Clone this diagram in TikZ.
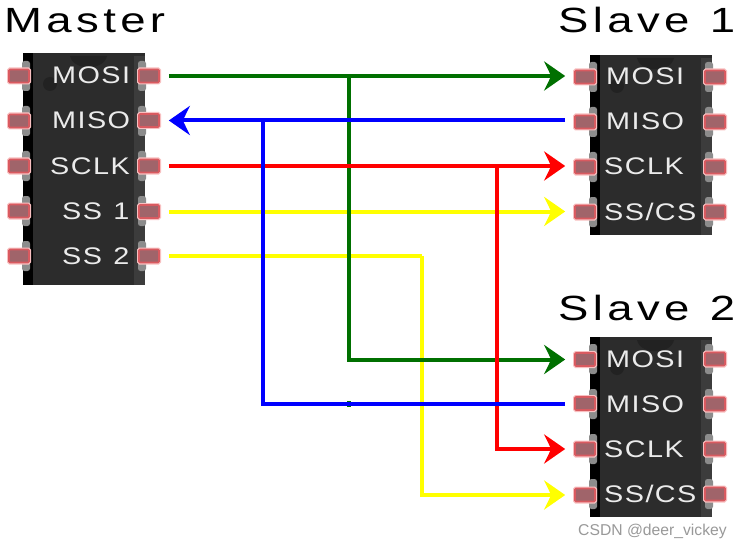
\documentclass[tikz,border=0pt]{standalone}
\usepackage{fontspec}
\setmainfont{Liberation Sans}
\newfontfamily\titlefont[FakeStretch=1.3,LetterSpace=12.5,WordSpace=1.2]{Liberation Sans}
\newfontfamily\pinfont[FakeStretch=1.2,LetterSpace=6,WordSpace=1.2]{Liberation Sans}
\usetikzlibrary{arrows.meta}
\definecolor{chipbody}{HTML}{2C2C2C}
\definecolor{chipright}{HTML}{3C3C3C}
\definecolor{notchdark}{HTML}{222222}
\definecolor{pinfill}{HTML}{A0646A}
\definecolor{pinedge}{HTML}{D95A60}
\definecolor{pinglow}{HTML}{F8BFC0}
\definecolor{leg}{HTML}{8C8C8C}
\definecolor{wiregreen}{HTML}{007000}
\definecolor{wireyellow}{HTML}{FFFF00}
\tikzset{
  x=1pt,y=-1pt,
  chip/.style={fill=chipbody,draw=none,inner sep=0pt,minimum width=122pt,anchor=north west},
  chippin/.style={fill=pinfill,draw=pinedge,line width=1.6pt,rounded corners=1pt,minimum width=20pt,minimum height=13pt,inner sep=0pt,
    preaction={draw=pinglow,line width=4pt}},
  legbit/.style={fill=leg,rounded corners=2.5pt},
  wire/.style={line width=4pt,line cap=butt,line join=miter},
  tipped/.style={-{Stealth[length=21pt,width=29pt,inset=7pt]}},
  title/.style={font=\titlefont\fontsize{35}{35}\selectfont,text=black,inner sep=0pt,anchor=base west},
  pinlabel/.style={font=\pinfont\fontsize{24}{24}\selectfont,text=white!92!black,inner sep=0pt,anchor=base west},
}
% #1 left x, #2 top y, #3 height, #4 list of pin y values
\newcommand{\chipface}[4]{%
  \begin{scope}
    \clip (#1-1,#2) rectangle (#1+123,#2+#3);
    \fill[black] (#1,#2) rectangle (#1+10,#2+#3);
    \fill[chipright] (#1+111,#2+3) rectangle (#1+122,#2+#3);
    \fill[notchdark] (#1+47,#2+3) .. controls (#1+50,#2+18) and (#1+81,#2+18) .. (#1+84,#2+3) -- cycle;
    \fill[notchdark] (#1+27,#2+31) circle[radius=7];
    \foreach \yy in {#4}{%
      \fill[legbit] (#1-1,\yy-15) rectangle (#1+7,\yy+15);
      \fill[legbit] (#1+115,\yy-15) rectangle (#1+123,\yy+15);
    }
  \end{scope}
}
\begin{document}
\begin{tikzpicture}
\useasboundingbox (0,0) rectangle (743,548);
\fill[white] (0,0) rectangle (743,548);

% ---------- Master ----------
\node[chip,minimum height=232pt] (master) at (23,53) {};
\chipface{23}{53}{232}{76,121,166,211,256}
\node[title] (mastertitle) at (4,33) {Master};
\node[chippin] (mL1) at (19,76) {};
\node[chippin] (mL2) at (19,121) {};
\node[chippin] (mL3) at (19,166) {};
\node[chippin] (mL4) at (19,211) {};
\node[chippin] (mL5) at (19,256) {};
\node[chippin] (mR1) at (149,76) {};
\node[chippin] (mR2) at (149,120.5) {};
\node[chippin] (mR3) at (149,166) {};
\node[chippin] (mR4) at (149,211.5) {};
\node[chippin] (mR5) at (149,256) {};
\node[pinlabel] (mt1) at (52,84) {MOSI};
\node[pinlabel] (mt2) at (52,129) {MISO};
\node[pinlabel] (mt3) at (50,174) {SCLK};
\node[pinlabel] (mt4) at (62,219) {SS 1};
\node[pinlabel] (mt5) at (62,264) {SS 2};

% ---------- Slave 1 ----------
\node[chip,minimum height=180pt] (slavea) at (590,55) {};
\chipface{590}{55}{180}{77,122,167,212}
\node[title] (slaveatitle) at (558,33) {Slave 1};
\node[chippin] (aL1) at (585,77) {};
\node[chippin] (aL2) at (585,122) {};
\node[chippin] (aL3) at (585,167) {};
\node[chippin] (aL4) at (585,212) {};
\node[chippin] (aR1) at (715,77) {};
\node[chippin] (aR2) at (715,122) {};
\node[chippin] (aR3) at (715,167) {};
\node[chippin] (aR4) at (715,212) {};
\node[pinlabel] (at1) at (606,85) {MOSI};
\node[pinlabel] (at2) at (606,130) {MISO};
\node[pinlabel] (at3) at (604,175) {SCLK};
\node[pinlabel] (at4) at (604,220) {SS/CS};

% ---------- Slave 2 ----------
\node[chip,minimum height=180pt] (slaveb) at (590,337) {};
\chipface{590}{337}{180}{359,404,449,494}
\node[title] (slavebtitle) at (558,320) {Slave 2};
\node[chippin] (bL1) at (585,359.5) {};
\node[chippin] (bL2) at (585,403.5) {};
\node[chippin] (bL3) at (585,449) {};
\node[chippin] (bL4) at (585,495) {};
\node[chippin] (bR1) at (715,359) {};
\node[chippin] (bR2) at (715,404) {};
\node[chippin] (bR3) at (715,449) {};
\node[chippin] (bR4) at (715,494) {};
\node[pinlabel] (bt1) at (606,367) {MOSI};
\node[pinlabel] (bt2) at (606,412) {MISO};
\node[pinlabel] (bt3) at (604,457) {SCLK};
\node[pinlabel] (bt4) at (604,502) {SS/CS};

% ---------- wires ----------
\coordinate (jG) at (349,76);
\coordinate (jB) at (263,120.5);
\coordinate (jR) at (497,166);
\coordinate (jY) at (422,256);

\draw[wire,wireyellow,tipped,shorten >=9pt,shorten <=9pt] (mR4.east) -- (aL4.west |- mR4.east);
\draw[wire,wireyellow,shorten <=9pt] (mR5.east) -- (jY);
\draw[wire,wireyellow,tipped,shorten >=9pt] (jY) -- (jY |- bL4.west) -- (bL4.west);
\draw[wire,wiregreen,tipped,shorten >=9pt,shorten <=9pt] (mR1.east) -- (aL1.west |- mR1.east);
\draw[wire,wiregreen,tipped,shorten >=9pt] (jG) -- (jG |- bL1.west) -- (bL1.west);
\fill[wiregreen] (347,401) rectangle (351,407);
\draw[wire,red,tipped,shorten >=9pt,shorten <=9pt] (mR3.east) -- (aL3.west |- mR3.east);
\draw[wire,red,tipped,shorten >=9pt] (jR) -- (jR |- bL3.west) -- (bL3.west);
\draw[wire,blue,tipped,shorten >=9pt,shorten <=9pt] (aL2.west |- mR2.east) -- (mR2.east);
\draw[wire,blue,shorten >=9pt] (jB) -- (jB |- bL2.west) -- (bL2.west);

\node[font=\fontsize{15.7}{15.7}\selectfont,text=black!40,inner sep=0pt,anchor=base west] (watermark) at (578,535) {CSDN @deer\_vickey};
\end{tikzpicture}
\end{document}
